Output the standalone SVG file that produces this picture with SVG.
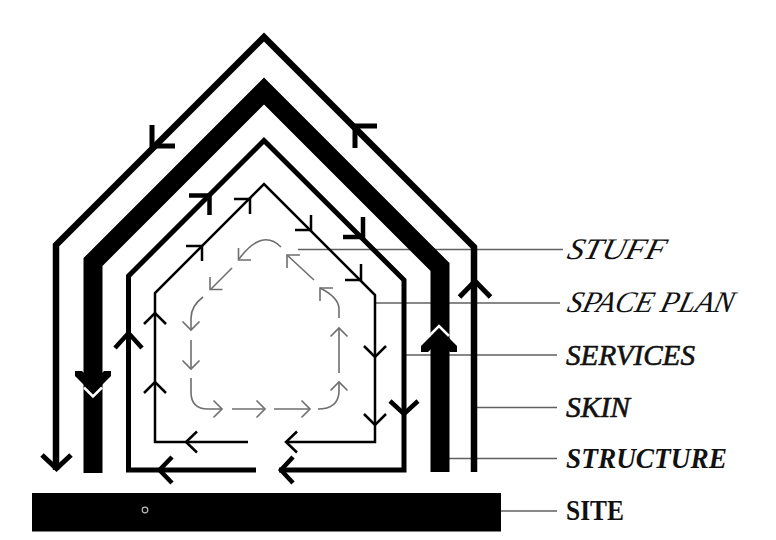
<svg xmlns="http://www.w3.org/2000/svg" width="776" height="540" viewBox="0 0 776 540">
<defs>
<style>
.skin{fill:none;stroke:#000;stroke-width:6.5;stroke-linejoin:miter;stroke-miterlimit:10}
.str{fill:none;stroke:#000;stroke-width:19;stroke-linejoin:miter;stroke-miterlimit:10}
.srv{fill:none;stroke:#000;stroke-width:5;stroke-linejoin:miter;stroke-miterlimit:10}
.sp{fill:none;stroke:#000;stroke-width:2.5;stroke-linejoin:miter;stroke-miterlimit:10}
.stf{fill:none;stroke:#6e6e6e;stroke-width:1.6;stroke-linejoin:miter}
.a5{fill:none;stroke:#000;stroke-width:5;stroke-linejoin:miter;stroke-miterlimit:10}
.a45{fill:none;stroke:#000;stroke-width:4.5;stroke-linejoin:miter;stroke-miterlimit:10}
.a25{fill:none;stroke:#000;stroke-width:2.5;stroke-linejoin:miter;stroke-miterlimit:10}
.chev{fill:#000;stroke:none}
.wv{fill:none;stroke:#fff;stroke-width:2.5;stroke-linejoin:miter;stroke-miterlimit:10}
.lead{fill:none;stroke:#606060;stroke-width:1.5}
.lbl{font-family:"Liberation Serif","Times New Roman",serif;font-size:30px;fill:#111}
.it{font-style:italic}
.bd{font-weight:bold}
.hv{stroke:#111;stroke-width:0.6}
</style>
</defs>
<rect width="776" height="540" fill="#fff"/>

<g id="connectors">
<line class="lead" x1="298" y1="249.5" x2="563" y2="249.5"/>
<line class="lead" x1="375" y1="303" x2="560" y2="303"/>
<line class="lead" x1="404" y1="355" x2="557" y2="355"/>
<line class="lead" x1="477" y1="407.5" x2="557" y2="407.5"/>
<line class="lead" x1="449" y1="458.5" x2="557" y2="458.5"/>
<line class="lead" x1="501" y1="511" x2="557" y2="511"/>
</g>

<g id="site">
<rect x="32" y="493" width="469" height="38.5" fill="#000"/>
<circle cx="145" cy="510" r="2.8" fill="none" stroke="#bbb" stroke-width="1.2"/>
</g>

<g id="skin">
<path class="skin" d="M56,470 L56,245 L264,37 L474,247 L474,472"/>
<polyline class="a5" points="152,125 152,146 175,146"/>
<polyline class="a5" points="377,126 355,126 355,148"/>
<polyline class="a5" points="459.5,297 475,281 490.5,297"/>
<polyline class="a5" points="42,455 56.5,468.5 71,455"/>
</g>

<g id="structure">
<path class="str" d="M93,473 L93,262 L264,91 L440,267 L440,472"/>
<polygon class="chev" points="93,394 75,376 75,371 82,371 93,382 104,371 111,371 111,376"/>
<polyline class="wv" points="84,387.5 93,396.5 102,387.5"/>
<polygon class="chev" points="439,328 457,346 457,352 450,352 439,341 428,352 421,352 421,346"/>
<polyline class="wv" points="429,336 439,326 449,336"/>
</g>

<g id="services">
<path class="srv" d="M279,470 L404,470 L404,280 L264,140.5 L128.5,276 L128.5,470 L256,470"/>
<polyline class="a45" points="115,348 128.5,333 142,348"/>
<polyline class="a45" points="189,195.5 209.5,195.5 209.5,215"/>
<polyline class="a45" points="343,237 363,237 363,217"/>
<polyline class="a45" points="390,401 404,414 418,401"/>
<polyline class="a45" points="172,457 159.5,470 172,483"/>
<polyline class="a45" points="293,457 281,470 293,483"/>
</g>

<g id="space-plan">
<path class="sp" d="M286,442 L375,442 L375,295 L264,184 L155,293 L155,442 L248,442"/>
<polyline class="a25" points="197,431.5 186,442 197,452.5"/>
<polyline class="a25" points="297,431.5 286,442 297,452.5"/>
<polyline class="a25" points="364,346 375,357 386,346"/>
<polyline class="a25" points="364,414 375,425 386,414"/>
<polyline class="a25" points="144,324 155,313 166,324"/>
<polyline class="a25" points="144,393 155,382 166,393"/>
<polyline class="a25" points="186,246 202,246 202,261"/>
<polyline class="a25" points="234,199 250,199 250,214"/>
<polyline class="a25" points="295,230 311,230 311,215"/>
<polyline class="a25" points="345,280 361,280 361,264"/>
</g>

<g id="stuff">
<path class="stf" d="M281,247 Q262,228 239,259"/>
<polyline class="stf" points="238.5,248 238.5,260 251,260"/>
<path class="stf" d="M232,268 L211,289"/>
<polyline class="stf" points="210,277 210,289.5 222.5,289.5"/>
<path class="stf" d="M203,297 Q191,306 191,318 L191,330"/>
<polyline class="stf" points="182.5,321.5 191,330 199.5,321.5"/>
<path class="stf" d="M191,340 L191,369"/>
<polyline class="stf" points="182.5,360.5 191,369 199.5,360.5"/>
<path class="stf" d="M191,378 L191,392 Q191,409 208,409 L222,409"/>
<polyline class="stf" points="213.5,400.5 222,409 213.5,417.5"/>
<path class="stf" d="M232,409 L265,409"/>
<polyline class="stf" points="256.5,400.5 265,409 256.5,417.5"/>
<path class="stf" d="M274,409 L310,409"/>
<polyline class="stf" points="301.5,400.5 310,409 301.5,417.5"/>
<path class="stf" d="M318,409 Q338,409 339,392 L339,382"/>
<polyline class="stf" points="330.5,390.5 339,382 347.5,390.5"/>
<path class="stf" d="M339,373 L339,328"/>
<polyline class="stf" points="330.5,336.5 339,328 347.5,336.5"/>
<path class="stf" d="M339,318 L339,308 Q338,297 320,288"/>
<polyline class="stf" points="320,301 320,288 333,288"/>
<path class="stf" d="M314,280 L287,255"/>
<polyline class="stf" points="287,268 287,255 300,255"/>
</g>

<g id="labels">
<g id="label-stuff" transform="translate(566,259) skewX(-14)"><text class="lbl it" x="0" y="0" textLength="98" lengthAdjust="spacingAndGlyphs">STUFF</text></g>
<g id="label-space-plan" transform="translate(566,312) skewX(-14)"><text class="lbl it" x="0" y="0" textLength="166" lengthAdjust="spacingAndGlyphs">SPACE PLAN</text></g>
<text id="label-services" class="lbl it hv" x="566" y="365" textLength="129" lengthAdjust="spacingAndGlyphs">SERVICES</text>
<text id="label-skin" class="lbl it hv" x="566" y="416.5" textLength="64" lengthAdjust="spacingAndGlyphs">SKIN</text>
<text id="label-structure" class="lbl it bd" x="566" y="468" textLength="161" lengthAdjust="spacingAndGlyphs">STRUCTURE</text>
<text id="label-site" class="lbl bd" x="566" y="520" textLength="58" lengthAdjust="spacingAndGlyphs">SITE</text>
</g>
</svg>
